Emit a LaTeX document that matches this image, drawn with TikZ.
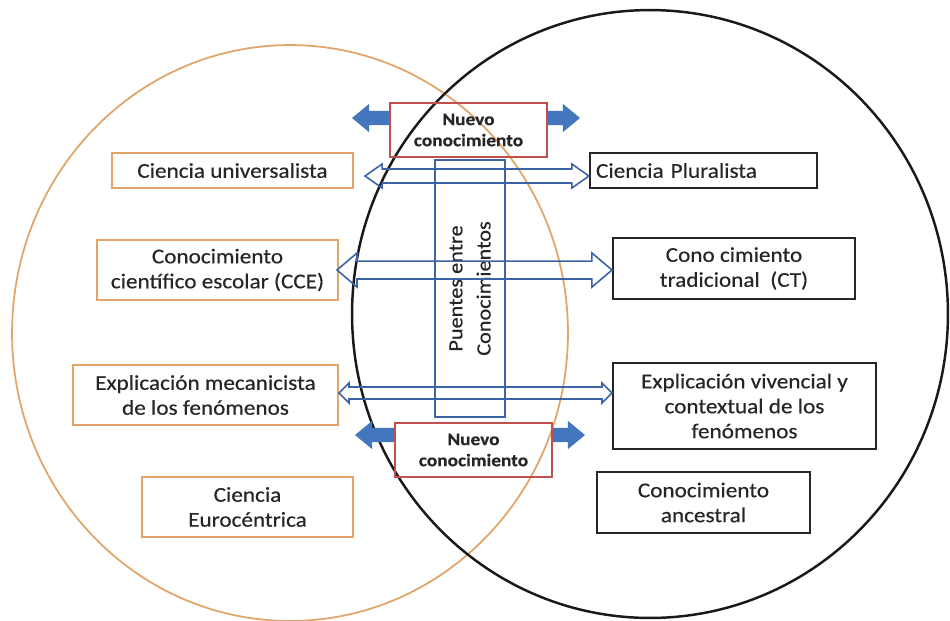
\documentclass[tikz,border=0pt]{standalone}
\usepackage{fontspec}
\setmainfont{Carlito}[FakeStretch=1.1,FakeBold=0.4]
\usetikzlibrary{calc}
\definecolor{orng}{RGB}{226,165,105}
\definecolor{rbord}{RGB}{192,80,77}
\definecolor{bline}{RGB}{60,100,165}
\definecolor{bfill}{RGB}{68,118,190}
\definecolor{txt}{RGB}{38,38,38}
\newcommand\mainsz{\fontsize{12}{14.2}\selectfont}
\newcommand\nsz{\fontsize{10}{12}\selectfont}
\newcommand\psz{\fontsize{11.5}{16}\selectfont}
% hollow double arrow: #1 left point (gives y), #2 right point (x only), #3 head length, #4 head half height, #5 shaft half height
\newcommand\hollowarrow[5]{%
  \draw[hollowarr] let \p1=(#1), \p2=(#2) in
   (\x1,\y1) -- ({\x1+#3},{\y1+#4}) -- ({\x1+#3},{\y1+#5}) -- ({\x2-#3},{\y1+#5})
   -- ({\x2-#3},{\y1+#4}) -- (\x2,\y1) -- ({\x2-#3},{\y1-#4}) -- ({\x2-#3},{\y1-#5})
   -- ({\x1+#3},{\y1-#5}) -- ({\x1+#3},{\y1-#4}) -- cycle;}
% block arrow: #1 base point, #2 tip (x only), #3 signed head length
\newcommand\blockarrow[3]{%
  \fill[blockarr] let \p1=(#1), \p2=(#2) in
   (\x1,{\y1+4pt}) -- ({\x2+(#3)},{\y1+4pt}) -- ({\x2+(#3)},{\y1+8pt}) -- (\x2,\y1)
   -- ({\x2+(#3)},{\y1-8pt}) -- ({\x2+(#3)},{\y1-4pt}) -- (\x1,{\y1-4pt}) -- cycle;}
\begin{document}
\begin{tikzpicture}[x=0.02cm, y=-0.02cm,
  lbox/.style={draw=orng, line width=1.2pt, align=center, inner sep=2pt, font=\mainsz, text=txt},
  rbox/.style={draw=black!85, line width=1.2pt, align=center, inner sep=2pt, font=\mainsz, text=txt},
  nbox/.style={draw=rbord, line width=1pt, align=center, font=\bfseries\nsz, text=txt, minimum width=3.14cm, minimum height=1.08cm},
  pbox/.style={draw=bline, line width=1pt, align=center, rotate=90, font=\psz, text=txt, minimum width=5.14cm, minimum height=1.4cm},
  hollowarr/.style={draw=bline, line width=0.9pt, line join=miter},
  blockarr/.style={fill=bfill}]
\useasboundingbox (0,0) rectangle (950,620);
\fill[white] (0,0) rectangle (950,620);
\begin{scope}
\clip (0,0) rectangle (950,620);
\draw[orng, line width=1pt] (290,333) ellipse [x radius=5.56cm, y radius=5.76cm];
\draw[black!90, line width=1.4pt] (650,314) ellipse [x radius=5.96cm, y radius=6.08cm];
\end{scope}
% left boxes
\node[lbox, minimum width=4.82cm, minimum height=0.70cm] (cu) at (232.5,170.5) {Ciencia universalista};
\node[lbox, minimum width=4.82cm, minimum height=1.20cm] (cce) at (217.5,270) {Conocimiento\\científico escolar (CCE)};
\node[lbox, minimum width=5.30cm, minimum height=1.20cm] (emf) at (205.5,395) {Explicación mecanicista\\de los fenómenos};
\node[lbox, minimum width=4.22cm, minimum height=1.20cm] (ce) at (247.5,507) {Ciencia\\Eurocéntrica};
% right boxes
\node[rbox, align=left, text width=4.30cm, inner xsep=0.12cm, minimum height=0.70cm] (cp) at (703.5,170.5) {Ciencia Pluralista};
\node[rbox, minimum width=4.84cm, minimum height=1.22cm] (ct) at (734,268.5) {Cono cimiento\\tradicional\ \ (CT)};
\node[rbox, minimum width=5.26cm, minimum height=1.72cm] (evc) at (744.5,406) {Explicación vivencial y\\contextual de los\\fenómenos};
\node[rbox, minimum width=4.26cm, minimum height=1.22cm] (ca) at (703.5,502.5) {Conocimiento\\ancestral};
% centre
\node[pbox] (pc) at (470,288.5) {Puentes entre\\Conocimientos};
\coordinate (a1l) at (365,176);
\hollowarrow{a1l}{cp.west}{9.7pt}{6.8pt}{4pt}
\coordinate (a2l) at (337,270);
\hollowarrow{a2l}{ct.west}{11.4pt}{9.7pt}{5.1pt}
\coordinate (a3l) at (339,393);
\hollowarrow{a3l}{evc.west}{5.7pt}{5.7pt}{3.4pt}
% nuevo conocimiento boxes and block arrows
\coordinate (n1base) at (390,118);
\coordinate (n1lt) at (352,118);
\coordinate (n1rb) at (547,118);
\coordinate (n1rt) at (580,118);
\blockarrow{n1base}{n1lt}{9.7pt}
\blockarrow{n1rb}{n1rt}{-9.7pt}
\node[nbox] (nc1) at (468.5,130) {Nuevo\\conocimiento};
\coordinate (n2base) at (395,435);
\coordinate (n2lt) at (355,435);
\coordinate (n2rb) at (552,435);
\coordinate (n2rt) at (585,435);
\blockarrow{n2base}{n2lt}{9.7pt}
\blockarrow{n2rb}{n2rt}{-9.7pt}
\node[nbox] (nc2) at (473.5,450) {Nuevo\\conocimiento};
\end{tikzpicture}
\end{document}
